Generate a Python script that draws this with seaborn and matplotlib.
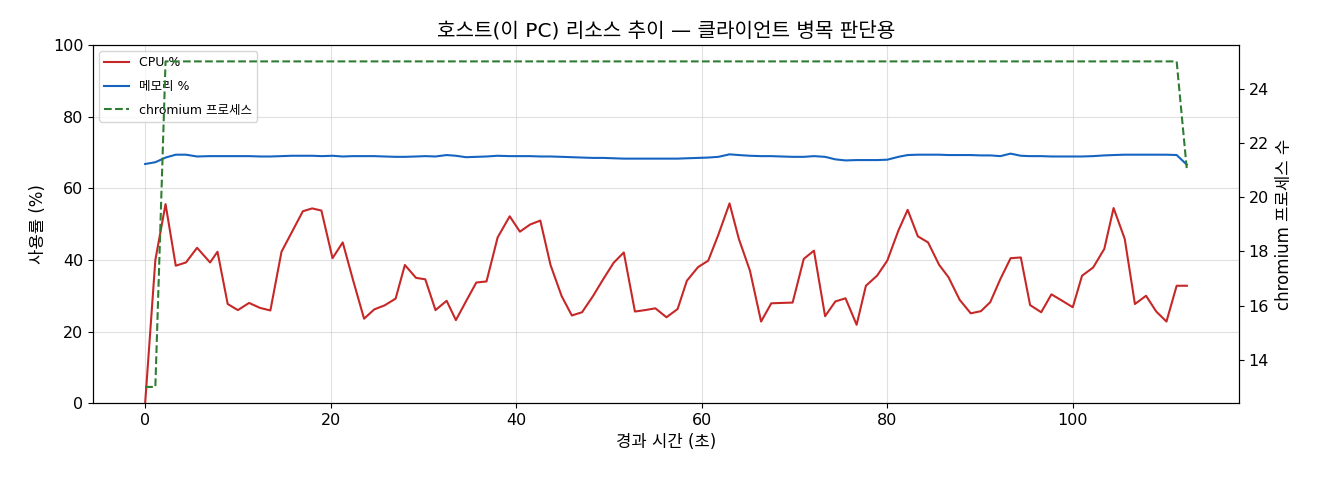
import pandas as pd
import numpy as np
import matplotlib
matplotlib.use('Agg')
import matplotlib.pyplot as plt
import seaborn as sns

# 경과 시간 (초)
elapsed = [0.0, 1.1, 2.2, 3.3, 4.4, 5.6, 7.0, 7.8, 8.9, 10.0,
           11.2, 12.4, 13.5, 14.7, 15.8, 17.0, 18.0, 19.0, 20.2, 21.3,
           22.4, 23.6, 24.7, 25.8, 27.0, 28.0, 29.2, 30.2, 31.3, 32.5,
           33.5, 34.6, 35.7, 36.8, 38.0, 39.3, 40.4, 41.5, 42.6, 43.7,
           44.9, 46.0, 47.1, 48.3, 49.4, 50.5, 51.6, 52.8, 53.9, 55.0,
           56.2, 57.4, 58.4, 59.6, 60.7, 61.8, 63.0, 64.0, 65.2, 66.4,
           67.5, 68.6, 69.8, 71.0, 72.1, 73.3, 74.4, 75.5, 76.7, 77.7,
           78.9, 80.0, 81.2, 82.2, 83.3, 84.4, 85.6, 86.6, 87.8, 89.0,
           90.1, 91.1, 92.2, 93.3, 94.4, 95.4, 96.6, 97.7, 98.8, 100.0,
           101.0, 102.2, 103.4, 104.4, 105.6, 106.7, 107.9, 109.0, 110.1, 111.2,
           112.3]

cpu = [0.0, 40.0, 55.6, 38.4, 39.3, 43.4, 39.3, 42.3, 27.7, 26.0,
       28.0, 26.6, 25.9, 42.3, 47.7, 53.6, 54.4, 53.8, 40.5, 44.9,
       34.5, 23.6, 26.2, 27.3, 29.2, 38.6, 35.0, 34.6, 26.0, 28.6,
       23.2, 28.5, 33.7, 34.0, 46.3, 52.2, 47.9, 49.9, 51.0, 38.6,
       29.9, 24.5, 25.4, 30.0, 34.7, 39.2, 42.1, 25.6, 26.0, 26.5,
       24.0, 26.3, 34.2, 38.0, 39.8, 47.1, 55.8, 45.9, 37.0, 22.8,
       27.9, 28.0, 28.1, 40.3, 42.6, 24.3, 28.4, 29.3, 21.9, 32.8,
       35.6, 39.8, 48.2, 54.0, 46.6, 44.9, 38.6, 35.2, 28.9, 25.1,
       25.7, 28.2, 34.7, 40.5, 40.7, 27.4, 25.4, 30.4, 28.7, 26.8,
       35.6, 37.9, 43.1, 54.5, 45.9, 27.7, 30.0, 25.6, 22.8, 32.8,
       32.8]

mem = [66.8, 67.3, 68.6, 69.4, 69.4, 68.9, 69.0, 69.0, 69.0, 69.0,
       69.0, 68.9, 68.9, 69.0, 69.1, 69.1, 69.1, 69.0, 69.1, 68.9,
       69.0, 69.0, 69.0, 68.9, 68.8, 68.8, 68.9, 69.0, 68.9, 69.3,
       69.1, 68.7, 68.8, 68.9, 69.1, 69.0, 69.0, 69.0, 68.9, 68.9,
       68.8, 68.7, 68.6, 68.5, 68.5, 68.4, 68.3, 68.3, 68.3, 68.3,
       68.3, 68.3, 68.4, 68.5, 68.6, 68.8, 69.5, 69.3, 69.1, 69.0,
       69.0, 68.9, 68.8, 68.8, 69.0, 68.8, 68.1, 67.8, 67.9, 67.9,
       67.9, 68.0, 68.8, 69.3, 69.4, 69.4, 69.4, 69.3, 69.3, 69.3,
       69.2, 69.2, 69.0, 69.7, 69.1, 69.0, 69.0, 68.9, 68.9, 68.9,
       68.9, 69.0, 69.2, 69.3, 69.4, 69.4, 69.4, 69.4, 69.4, 69.3,
       66.6]

procs = [13, 13, 25, 25, 25, 25, 25, 25, 25, 25,
         25, 25, 25, 25, 25, 25, 25, 25, 25, 25,
         25, 25, 25, 25, 25, 25, 25, 25, 25, 25,
         25, 25, 25, 25, 25, 25, 25, 25, 25, 25,
         25, 25, 25, 25, 25, 25, 25, 25, 25, 25,
         25, 25, 25, 25, 25, 25, 25, 25, 25, 25,
         25, 25, 25, 25, 25, 25, 25, 25, 25, 25,
         25, 25, 25, 25, 25, 25, 25, 25, 25, 25,
         25, 25, 25, 25, 25, 25, 25, 25, 25, 25,
         25, 25, 25, 25, 25, 25, 25, 25, 25, 25,
         21]

df = pd.DataFrame({'t': elapsed, 'cpu': cpu, 'mem': mem, 'procs': procs})

# 라틴 문자는 DejaVu, 한글은 Noto CJK 로 대체
plt.rcParams['font.family'] = ['DejaVu Sans', 'Noto Sans CJK KR']
plt.rcParams['axes.unicode_minus'] = False

fig, ax = plt.subplots(figsize=(13.2, 4.8), dpi=100)
fig.subplots_adjust(left=0.0705, right=0.9386, top=0.906, bottom=0.16)

sns.lineplot(data=df, x='t', y='cpu', ax=ax, color='#c62828', linewidth=1.5, label='CPU %')
sns.lineplot(data=df, x='t', y='mem', ax=ax, color='#1565c0', linewidth=1.5, label='메모리 %')
ax.set_ylim(0, 100)
ax.set_xlabel('경과 시간 (초)', fontsize=12)
ax.set_ylabel('사용률 (%)', fontsize=12)
ax.grid(True, color='#cccccc', alpha=0.6, linewidth=0.8)
ax.tick_params(labelsize=11.5)

ax2 = ax.twinx()
sns.lineplot(data=df, x='t', y='procs', ax=ax2, color='#2e7d32', linewidth=1.5,
             linestyle='--', label='chromium 프로세스')
ax2.set_ylabel('chromium 프로세스 수', fontsize=12)
ax2.tick_params(labelsize=11.5)
ax2.legend_.remove()

h1, l1 = ax.get_legend_handles_labels()
h2, l2 = ax2.get_legend_handles_labels()
ax.legend(h1 + h2, l1 + l2, loc='upper left', fontsize=9, labelspacing=0.85)

ax.set_title('호스트(이 PC) 리소스 추이 — 클라이언트 병목 판단용', fontsize=14.5)

plt.savefig('out.png', dpi=100)
